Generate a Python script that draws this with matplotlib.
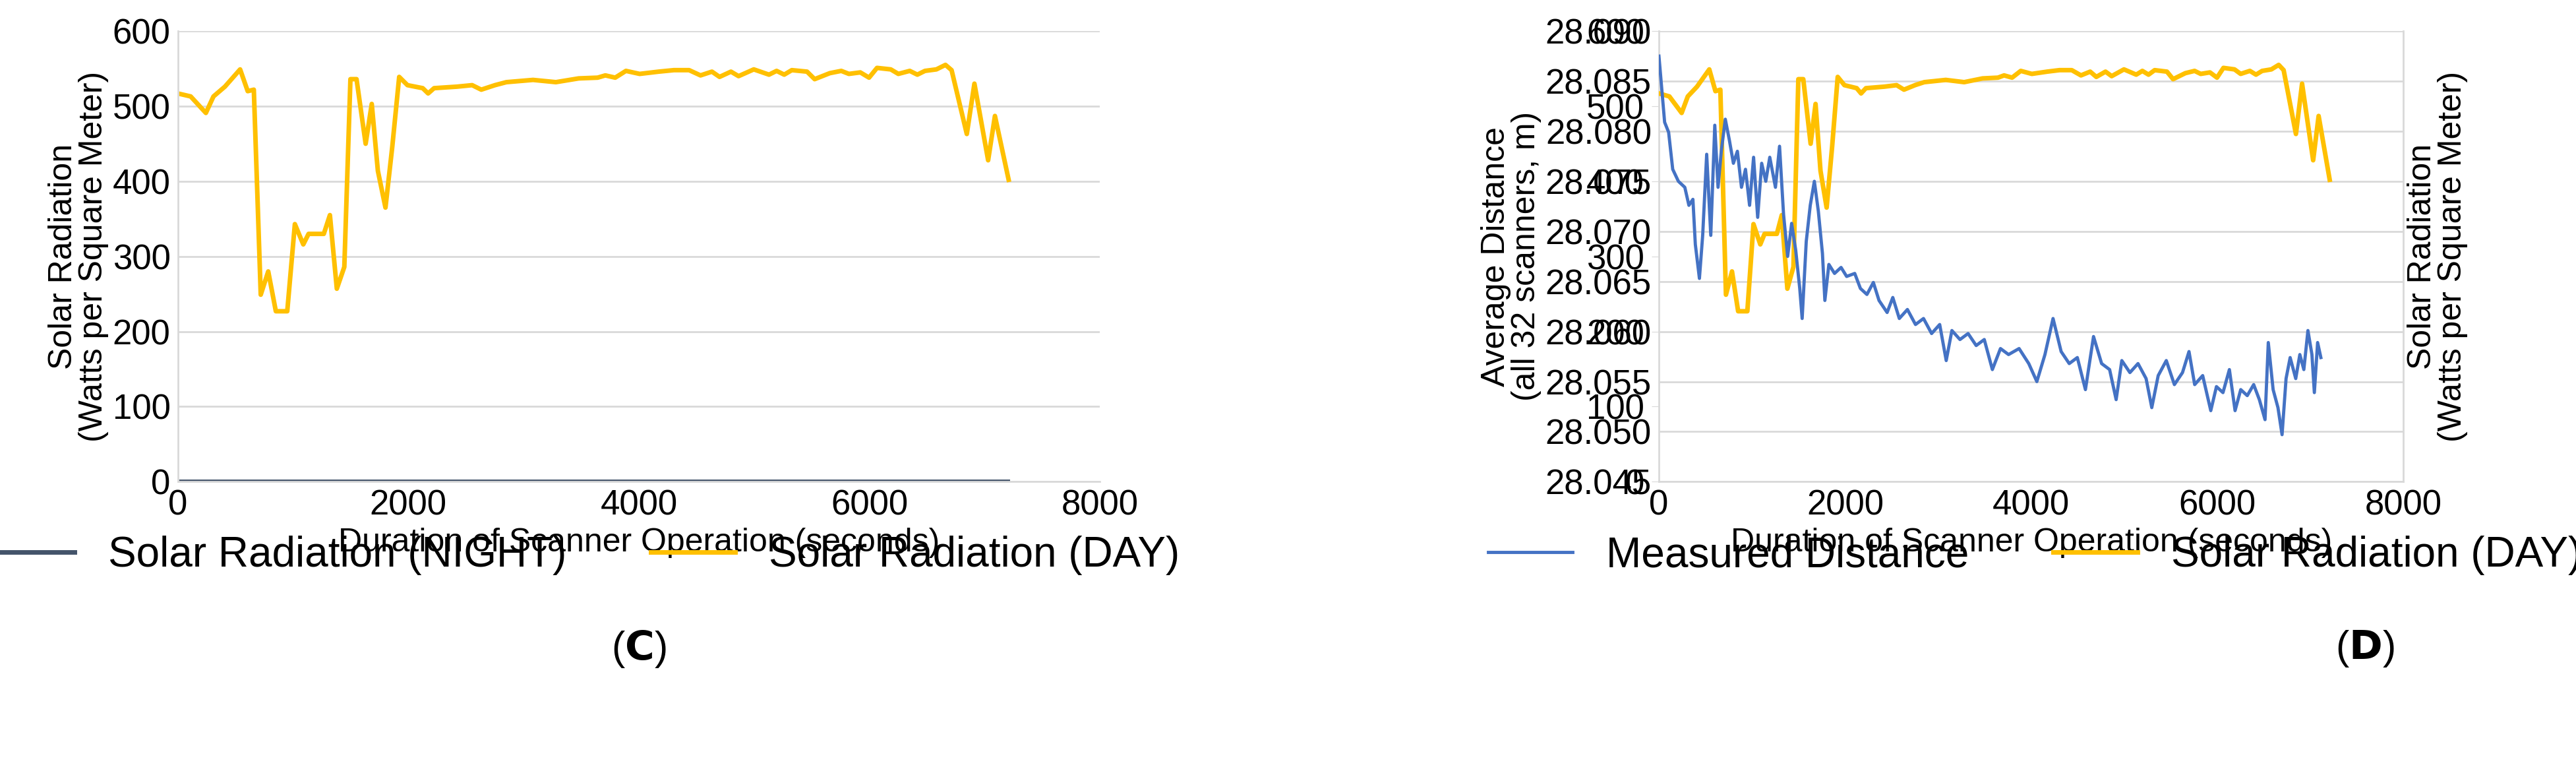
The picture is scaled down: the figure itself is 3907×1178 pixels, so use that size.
import matplotlib
matplotlib.use("Agg")
import matplotlib.pyplot as plt

plt.rcParams['font.family'] = ['Liberation Sans', 'DejaVu Sans']

# Solar radiation (DAY), seconds vs W/m^2
day_t = [0, 112, 244, 310, 409, 541, 607, 660, 720, 785, 851, 950, 1016, 1089, 1135, 1267,
         1320, 1380, 1445, 1498, 1551, 1630, 1683, 1736, 1802, 1861, 1921, 1993, 2125, 2172,
         2224, 2422, 2554, 2633, 2752, 2851, 3082, 3280, 3478, 3643, 3709, 3795, 3888, 4007,
         4172, 4304, 4436, 4535, 4634, 4700, 4799, 4865, 4997, 5129, 5195, 5261, 5327, 5459,
         5525, 5657, 5756, 5822, 5921, 5997, 6066, 6185, 6251, 6350, 6416, 6482, 6581, 6660,
         6713, 6845, 6911, 7030, 7089, 7208]
day_rad = [517, 513, 491, 513, 526, 549, 520, 522, 249, 280, 227, 227, 343, 316, 330, 330,
           355, 257, 286, 536, 536, 450, 503, 414, 365, 446, 539, 528, 524, 517,
           524, 526, 528, 522, 528, 532, 535, 532, 537, 538, 541, 538, 547, 543,
           546, 548, 548, 541, 546, 539, 546, 540, 549, 542, 547, 542, 548, 546,
           536, 544, 547, 543, 545, 538, 551, 549, 543, 547, 542, 547, 549, 555,
           548, 463, 530, 428, 487, 402]

# Solar radiation (NIGHT)
night_t = [0, 7200]
night_rad = [0, 0]

# Measured distance (average of 32 scanners, m)
dist_t = [0, 61, 104, 148, 209, 278, 322, 365, 391, 435, 470, 513, 557, 600, 635, 670, 713,
          757, 800, 843, 887, 930, 974, 1017, 1061, 1104, 1148, 1191, 1252, 1296, 1339, 1383,
          1426, 1470, 1513, 1539, 1583, 1626, 1670, 1713, 1757, 1783, 1826, 1887, 1957, 2017,
          2104, 2165, 2235, 2304, 2365, 2452, 2513, 2583, 2670, 2757, 2843, 2930, 3017, 3087,
          3148, 3235, 3322, 3409, 3496, 3583, 3670, 3757, 3870, 3974, 4061, 4148, 4235, 4322,
          4409, 4496, 4583, 4670, 4757, 4843, 4913, 4974, 5061, 5148, 5235, 5296, 5365, 5452,
          5539, 5626, 5696, 5757, 5843, 5930, 5991, 6061, 6130, 6191, 6252, 6322, 6391, 6452,
          6513, 6548, 6600, 6652, 6696, 6739, 6783, 6843, 6887, 6930, 6974, 7017, 7043, 7078,
          7113]
dist_m = [28.0875, 28.0809, 28.0799, 28.0762, 28.0750, 28.0744, 28.0726, 28.0732, 28.0687,
          28.0653, 28.0696, 28.0777, 28.0696, 28.0806, 28.0744, 28.0780, 28.0812, 28.0791,
          28.0768, 28.0780, 28.0744, 28.0762, 28.0726, 28.0774, 28.0714, 28.0768, 28.0750,
          28.0774, 28.0744, 28.0785, 28.0717, 28.0675, 28.0708, 28.0681, 28.0643, 28.0613,
          28.0690, 28.0726, 28.0750, 28.0720, 28.0678, 28.0631, 28.0667, 28.0658, 28.0664,
          28.0655, 28.0658, 28.0643, 28.0637, 28.0649, 28.0631, 28.0619, 28.0634, 28.0613,
          28.0622, 28.0607, 28.0613, 28.0598, 28.0607, 28.0571, 28.0601, 28.0592, 28.0598,
          28.0586, 28.0592, 28.0562, 28.0583, 28.0577, 28.0583, 28.0568, 28.0550, 28.0577,
          28.0613, 28.0580, 28.0568, 28.0574, 28.0542, 28.0595, 28.0568, 28.0562, 28.0532,
          28.0571, 28.0559, 28.0568, 28.0553, 28.0524, 28.0556, 28.0571, 28.0547, 28.0559,
          28.0580, 28.0547, 28.0556, 28.0521, 28.0545, 28.0539, 28.0562, 28.0521, 28.0542,
          28.0536, 28.0547, 28.0532, 28.0512, 28.0589, 28.0542, 28.0524, 28.0497, 28.0553,
          28.0574, 28.0553, 28.0577, 28.0562, 28.0601, 28.0577, 28.0539, 28.0589, 28.0574]

YELLOW = '#FFC000'
BLUE = '#4472C4'
NAVY = '#44546A'
GRID = '#D9D9D9'
FS = 38
LFS = 36
LEGFS = 46

fig = plt.figure(figsize=(39.07, 11.78), dpi=100)


def style(ax):
    ax.grid(axis='y', color=GRID, linewidth=2)
    ax.set_axisbelow(True)
    for s in ['top', 'right']:
        ax.spines[s].set_visible(False)
    ax.spines['left'].set_color(GRID)
    ax.spines['bottom'].set_color(GRID)
    ax.spines['left'].set_linewidth(2)
    ax.spines['bottom'].set_linewidth(2)
    ax.tick_params(labelsize=FS, length=0, pad=8)
    ax.set_xlim(0, 8000)
    ax.set_xticks([0, 2000, 4000, 6000, 8000])
    ax.set_xlabel('Duration of Scanner Operation (seconds)', fontsize=LFS, labelpad=6)


# (C)
ax1 = fig.add_axes([0.069, 0.38, 0.358, 0.58])
style(ax1)
ax1.plot(night_t, night_rad, color=NAVY, linewidth=5, label='Solar Radiation (NIGHT)')
ax1.plot(day_t, day_rad, color=YELLOW, linewidth=5, label='Solar Radiation (DAY)')
ax1.set_ylim(0, 600)
ax1.set_yticks(range(0, 601, 100))
ax1.set_ylabel('Solar Radiation\n(Watts per Square Meter)', fontsize=LFS, linespacing=1.0)
fig.legend(*ax1.get_legend_handles_labels(), loc='center', bbox_to_anchor=(0.227, 0.285),
           ncol=2, frameon=False, fontsize=LEGFS, handlelength=2.0, columnspacing=2.0)
fig.text(0.248, 0.165, r'($\mathbf{C}$)', fontsize=44, ha='center', va='center')

# (D)
ax2 = fig.add_axes([0.644, 0.38, 0.289, 0.58])
style(ax2)
ax2.set_ylim(28.045, 28.090)
ax2.set_yticks([28.045 + 0.005 * i for i in range(10)])
ax2.set_yticklabels(['%.3f' % (28.045 + 0.005 * i) for i in range(10)])
ax2.set_ylabel('Average Distance\n(all 32 scanners, m)', fontsize=LFS, linespacing=1.0)
ax3 = ax2.twinx()
ax3.plot(day_t, day_rad, color=YELLOW, linewidth=5, label='Solar Radiation (DAY)')
ax3.set_ylim(0, 600)
ax3.set_yticks(range(0, 601, 100))
ax3.tick_params(labelsize=FS, length=8, color=GRID, pad=8)
for s in ['top', 'left', 'bottom']:
    ax3.spines[s].set_visible(False)
ax3.spines['right'].set_color(GRID)
ax3.spines['right'].set_linewidth(2)
ax3.set_ylabel('Solar Radiation\n(Watts per Square Meter)', fontsize=LFS, linespacing=1.0)
# distance drawn on top of the radiation line
ax4 = ax3.twinx()
ax4.set_ylim(ax2.get_ylim())
ax4.axis('off')
ax4.plot(dist_t, dist_m, color=BLUE, linewidth=3.5, label='Measured Distance')
h = ax4.get_legend_handles_labels()[0] + ax3.get_legend_handles_labels()[0]
l = ax4.get_legend_handles_labels()[1] + ax3.get_legend_handles_labels()[1]
fig.legend(h, l, loc='center', bbox_to_anchor=(0.79, 0.285), ncol=2, frameon=False,
           fontsize=LEGFS, handlelength=2.0, columnspacing=2.0)
fig.text(0.918, 0.165, r'($\mathbf{D}$)', fontsize=44, ha='center', va='center')

fig.savefig('out.png', dpi=100)
